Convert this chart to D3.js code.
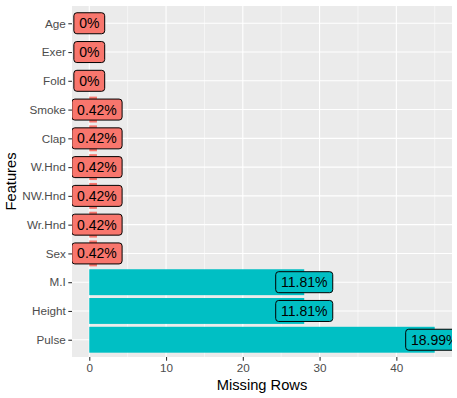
<!DOCTYPE html>
<html>
<head>
<meta charset="utf-8">
<script src="https://cdn.jsdelivr.net/npm/d3@7"></script>
<style>
  body { margin: 0; background: #fff; }
  svg { display: block; font-family: "Liberation Sans", Arial, sans-serif; }
</style>
</head>
<body>
<svg width="457" height="398"></svg>
<script>
// bottom to top
const features = ["Pulse", "Height", "M.I", "Sex", "Wr.Hnd", "NW.Hnd", "W.Hnd", "Clap", "Smoke", "Fold", "Exer", "Age"];
const missing = [45, 28, 28, 1, 1, 1, 1, 1, 1, 0, 0, 0];
const percent = [18.99, 11.81, 11.81, 0.42, 0.42, 0.42, 0.42, 0.42, 0.42, 0, 0, 0];
const group = ["high", "high", "high", "low", "low", "low", "low", "low", "low", "low", "low", "low"];
const xTicks = [0, 10, 20, 30, 40];
const xMinor = [5, 15, 25, 35, 45];

const colors = { low: "#F8766D", high: "#00BFC4" };

const dataset = features.map((f, i) => ({
    feature: f,
    value: missing[i],
    pct: percent[i],
    group: group[i]
}));

const panel = { left: 72, right: 452, top: 6, bottom: 357 };

const svg = d3.select("svg");

// x
const x = d3.scaleLinear()
    .domain([-2.25, 47.25])
    .range([panel.left, panel.right]);

// y (ggplot discrete expansion 0.6)
const y = d3.scalePoint()
    .domain(features.slice().reverse())
    .range([panel.top, panel.bottom])
    .padding(0.6);
const step = y.step();

// panel background
svg.append("rect")
    .attr("x", panel.left)
    .attr("y", panel.top)
    .attr("width", panel.right - panel.left)
    .attr("height", panel.bottom - panel.top)
    .attr("fill", "#EBEBEB");

// grid
svg.append("g").selectAll("line")
    .data(xMinor)
    .join("line")
    .attr("x1", d => x(d)).attr("x2", d => x(d))
    .attr("y1", panel.top).attr("y2", panel.bottom)
    .attr("stroke", "#fff").attr("stroke-width", 0.55);

svg.append("g").selectAll("line")
    .data(xTicks)
    .join("line")
    .attr("x1", d => x(d)).attr("x2", d => x(d))
    .attr("y1", panel.top).attr("y2", panel.bottom)
    .attr("stroke", "#fff").attr("stroke-width", 1.1);

svg.append("g").selectAll("line")
    .data(features)
    .join("line")
    .attr("x1", panel.left).attr("x2", panel.right)
    .attr("y1", d => y(d)).attr("y2", d => y(d))
    .attr("stroke", "#fff").attr("stroke-width", 1.1);

// clip to panel
svg.append("clipPath")
    .attr("id", "clip")
    .append("rect")
    .attr("x", panel.left)
    .attr("y", panel.top)
    .attr("width", panel.right - panel.left)
    .attr("height", panel.bottom - panel.top);

const plot = svg.append("g").attr("clip-path", "url(#clip)");

// bars
const barH = step * 0.9;
plot.selectAll("rect.bar")
    .data(dataset)
    .join("rect")
    .attr("class", "bar")
    .attr("x", x(0))
    .attr("y", d => y(d.feature) - barH / 2)
    .attr("width", d => x(d.value) - x(0))
    .attr("height", barH)
    .attr("fill", d => colors[d.group]);

// labels
const labels = plot.selectAll("g.label")
    .data(dataset)
    .join("g")
    .attr("class", "label")
    .attr("transform", d => `translate(${x(d.value)},${y(d.feature)})`);

const boxes = labels.append("rect");
const texts = labels.append("text")
    .attr("text-anchor", "middle")
    .attr("dy", "0.36em")
    .attr("font-size", "14px")
    .attr("fill", "#000")
    .text(d => d.pct + "%");

texts.each(function(d) {
    d.tw = this.getComputedTextLength();
});

boxes
    .attr("x", d => -d.tw / 2 - 5.3)
    .attr("y", -10.5)
    .attr("width", d => d.tw + 10.6)
    .attr("height", 21)
    .attr("rx", 3)
    .attr("fill", d => colors[d.group])
    .attr("stroke", "#000")
    .attr("stroke-width", 1);

// axes
const xAxis = d3.axisBottom(x)
    .tickValues(xTicks)
    .tickSize(3.7)
    .tickPadding(2.5);

const gx = svg.append("g")
    .attr("transform", `translate(0,${panel.bottom})`)
    .call(xAxis);

const yAxis = d3.axisLeft(y)
    .tickSize(3.7)
    .tickPadding(2.5);

const gy = svg.append("g")
    .attr("transform", `translate(${panel.left},0)`)
    .call(yAxis);

[gx, gy].forEach(g => {
    g.select(".domain").remove();
    g.selectAll(".tick line").attr("stroke", "#333333").attr("stroke-width", 1.1);
    g.selectAll(".tick text")
        .attr("fill", "#4D4D4D")
        .attr("font-size", "11.7px")
        .attr("font-family", "Liberation Sans, Arial, sans-serif");
});

// axis titles
svg.append("text")
    .attr("x", (panel.left + panel.right) / 2)
    .attr("y", 390)
    .attr("text-anchor", "middle")
    .attr("font-size", "14.7px")
    .attr("fill", "#000")
    .text("Missing Rows");

svg.append("text")
    .attr("transform", `translate(16,${(panel.top + panel.bottom) / 2}) rotate(-90)`)
    .attr("text-anchor", "middle")
    .attr("font-size", "14.7px")
    .attr("fill", "#000")
    .text("Features");
</script>
</body>
</html>
